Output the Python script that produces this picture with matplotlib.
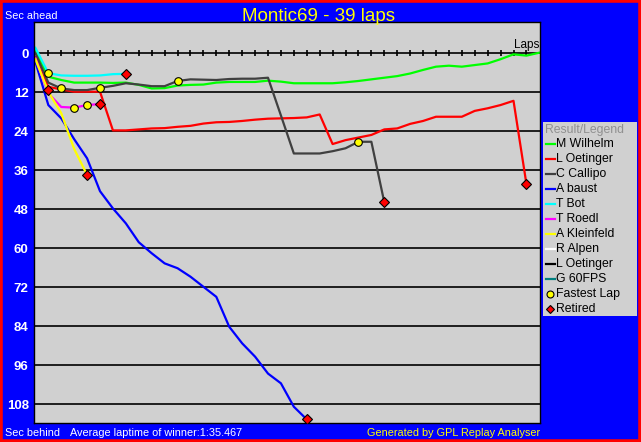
import matplotlib
matplotlib.use("Agg")
import matplotlib.pyplot as plt
from matplotlib.patches import Rectangle

plt.rcParams['font.family'] = ['Liberation Sans', 'DejaVu Sans']

# --- data (seconds behind leader, per lap) ---
wilhelm = [-0.9, 7.3, 8.3, 9.1, 9.1, 9.1, 9.2, 9.1, 9.8, 10.9, 10.8, 10.0, 9.8, 9.7,
           9.1, 8.9, 8.9, 8.9, 8.5, 8.8, 9.3, 9.3, 9.3, 9.3, 9.0, 8.6, 8.1, 7.6,
           7.1, 6.3, 5.2, 4.2, 3.9, 4.2, 3.7, 3.2, 1.9, 0.4, 0.8, -0.1]
oetinger = [1.3, 10.4, 11.2, 11.9, 11.9, 11.9, 23.8, 23.8, 23.5, 23.2, 23.1, 22.7,
            22.4, 21.7, 21.3, 21.2, 20.9, 20.5, 20.2, 20.1, 20.0, 19.8, 18.9, 28.0,
            26.8, 26.0, 25.2, 23.5, 23.2, 21.8, 20.9, 19.6, 19.6, 19.6, 17.8, 17.0,
            16.0, 14.7, 40.3]
callipo = [0.0, 9.1, 10.9, 11.4, 11.4, 10.7, 10.1, 9.3, 9.7, 10.2, 10.2, 8.6, 8.1,
           8.2, 8.3, 8.0, 7.9, 7.9, 7.6, 19.2, 30.9, 30.9, 30.9, 30.2, 29.3, 27.3,
           27.3, 45.9]
baust = [2.7, 16.0, 20.1, 26.5, 32.4, 42.5, 47.8, 52.4, 58.2, 61.6, 64.7, 66.2, 68.8,
         71.9, 75.0, 84.2, 89.3, 93.4, 98.6, 101.6, 108.8, 112.7]
bot = [-1.6, 6.2, 6.9, 7.0, 7.0, 6.9, 6.5, 6.4]
roedl = [1.6, 12.4, 16.6, 16.8, 16.0, 15.7]
kleinfeld = [1.9, 11.9, 18.5, 29.5, 37.5]
alpen = []
oetinger2 = []
fps60 = []

drivers = ["M Wilhelm", "L Oetinger", "C Callipo", "A baust", "T Bot", "T Roedl",
           "A Kleinfeld", "R Alpen", "L Oetinger", "G 60FPS"]
series = [wilhelm, oetinger, callipo, baust, bot, roedl, kleinfeld, alpen, oetinger2, fps60]
colors = ["#00ff00", "#ff0000", "#404040", "#0000ff", "#00ffff", "#ff00ff",
          "#ffff00", "#ffffff", "#000000", "#008080"]

fastest_laps = [1, 2, 3, 4, 5, 11, 25]
fastest_secs = [6.2, 10.7, 16.8, 16.0, 10.7, 8.5, 27.3]
retired_laps = [1, 4, 5, 7, 21, 27, 38]
retired_secs = [11.3, 37.5, 15.7, 6.4, 112.7, 45.9, 40.3]

n_laps = 39
yticks = list(range(0, 109, 12))

W, H = 641, 442
fig = plt.figure(figsize=(W / 100, H / 100), dpi=100, facecolor="#0000ff")
fig.add_artist(Rectangle((0, 0), 1, 1, transform=fig.transFigure, fill=False,
                         edgecolor="#ff0000", linewidth=4))

L, R, T, B = 34.3, 540, 22.3, 423.3
ax = fig.add_axes([L / W, 1 - B / H, (R - L) / W, (B - T) / H], facecolor="#d0d0d0")
for s in ax.spines.values():
    s.set_color("black")
    s.set_linewidth(1)

for y in yticks:
    ax.axhline(y, color="black", lw=1.2, zorder=1)
ax.plot(range(1, n_laps), [0] * (n_laps - 1), ls="none", marker="|", ms=4.5,
        mew=1.2, color="black", zorder=1)

for vals, c in zip(series, colors):
    if vals:
        ax.plot(range(len(vals)), vals, color=c, lw=1.6, zorder=2)

ax.plot(fastest_laps, fastest_secs, ls="none", marker="o", ms=5.5, mfc="#ffff00",
        mec="black", mew=0.8, zorder=4)
ax.plot(retired_laps, retired_secs, ls="none", marker="D", ms=4.8, mfc="#ff0000",
        mec="black", mew=0.8, zorder=4)

ax.set_xlim(-0.085, 39.05)
ax.set_ylim(113.9, -9.45)
ax.set_xticks([])
ax.set_yticks(yticks)
ax.tick_params(axis="y", length=0, pad=4, labelcolor="white", labelsize=9.5)
for lab in ax.get_yticklabels():
    lab.set_fontweight("bold")
ax.text(39, -0.6, "Laps", ha="right", va="bottom", fontsize=8.5, color="black")

# titles and footers
fig.text(319 / W, 1 - 21 / H, "Montic69 - 39 laps", ha="center", va="baseline",
         color="#ffff00", fontsize=13.5)
fig.text(5 / W, 1 - 19.3 / H, "Sec ahead", ha="left", va="baseline",
         color="white", fontsize=7.8)
fig.text(5 / W, 1 - 436 / H, "Sec behind", ha="left", va="baseline",
         color="white", fontsize=7.8)
fig.text(70 / W, 1 - 436 / H, "Average laptime of winner:1:35.467", ha="left",
         va="baseline", color="white", fontsize=7.8)
fig.text(540 / W, 1 - 436 / H, "Generated by GPL Replay Analyser", ha="right",
         va="baseline", color="#ffff00", fontsize=7.8)

# legend box
LL, LT, LR, LB = 543, 122, 637, 316
lg = fig.add_axes([LL / W, 1 - LB / H, (LR - LL) / W, (LB - LT) / H], facecolor="#d0d0d0")
lg.set_xlim(0, LR - LL)
lg.set_ylim(LB - LT, 0)
lg.set_xticks([])
lg.set_yticks([])
for s in lg.spines.values():
    s.set_visible(False)
lg.text(2, 8, "Result/Legend", ha="left", va="center", color="#909090", fontsize=8.8)
for i, (name, c) in enumerate(zip(drivers, colors)):
    y = 22.3 + i * 15
    lg.plot([3, 12], [y, y], color=c, lw=1.6)
    lg.text(13, y, name, ha="left", va="center", color="black", fontsize=8.8)
y = 22.3 + 10 * 15
lg.plot([6.5], [y], marker="o", ms=5, mfc="#ffff00", mec="black", mew=0.8)
lg.text(13, y, "Fastest Lap", ha="left", va="center", color="black", fontsize=8.8)
y += 15
lg.plot([6.5], [y], marker="D", ms=4.3, mfc="#ff0000", mec="black", mew=0.8)
lg.text(13, y, "Retired", ha="left", va="center", color="black", fontsize=8.8)

fig.savefig("out.png", dpi=100, facecolor=fig.get_facecolor())
